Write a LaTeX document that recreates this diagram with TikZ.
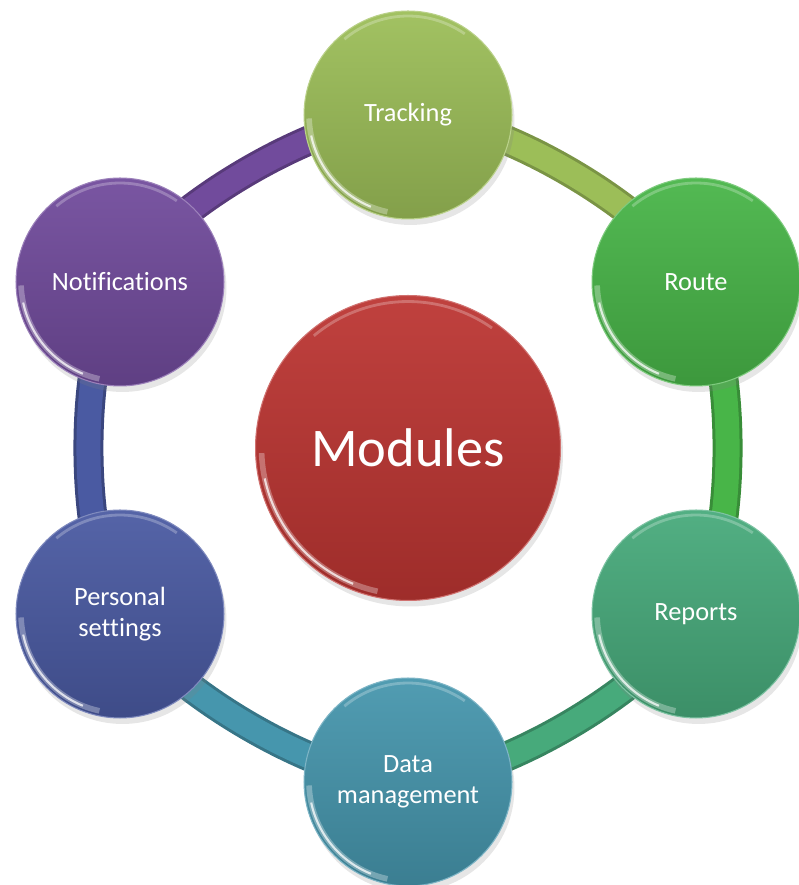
\documentclass[tikz,border=0pt]{standalone}
\usepackage{fontspec}
\setmainfont{Carlito}[Ligatures=NoCommon]
\usetikzlibrary{shadows}
\usetikzlibrary{backgrounds}

\definecolor{trackgreen}{HTML}{9CBE58}
\definecolor{routegreen}{HTML}{48B548}
\definecolor{reportteal}{HTML}{47AA7B}
\definecolor{datablue}{HTML}{4696AD}
\definecolor{personblue}{HTML}{4A5AA2}
\definecolor{notepurple}{HTML}{714B9C}
\definecolor{modred}{HTML}{BC3532}

\tikzset{
	bubble/.style={circle, inner sep=0pt, align=center, text=white,
		top color=#1!94!white, bottom color=#1!84!black, draw=#1!70!white, line width=.6pt,
		drop shadow={shadow xshift=.5mm, shadow yshift=-1.2mm, opacity=.2}},
	glint/.style={path picture={
		\draw[white, opacity=.3, line width=3.2pt] ([shift={(182:#1)}]path picture bounding box.center) arc[start angle=182, end angle=258, radius=#1];
		\draw[white, opacity=.75, line width=1.2pt] ([shift={(192:#1)}]path picture bounding box.center) arc[start angle=192, end angle=248, radius=#1];
		\draw[white, opacity=.25, line width=1.6pt] ([shift={(55:#1)}]path picture bounding box.center) arc[start angle=55, end angle=130, radius=#1];}},
	small/.style={minimum size=4.16cm, font=\fontsize{15}{17.5}\selectfont, glint=1.98cm},
	band/.style={line width=.6cm, #1!78!black},
	bandtop/.style={line width=.48cm, #1},
	ring/.style={bend left=30, looseness=.65},
}

\begin{document}
\begin{tikzpicture}[x=0.02cm, y=0.02cm]
	\useasboundingbox (0,0) rectangle (798,885);
	\node[bubble=trackgreen, small] (trk) at (408,770) {Tracking};
	\node[bubble=routegreen, small] (rte) at (696,603) {Route};
	\node[bubble=reportteal, small] (rep) at (696,271) {Reports};
	\node[bubble=datablue, small] (dat) at (408,103) {Data\\management};
	\node[bubble=personblue, small] (per) at (120,271) {Personal\\settings};
	\node[bubble=notepurple, small] (ntf) at (120,603) {Notifications};
	\node[bubble=modred, minimum size=6.1cm, font=\fontsize{31}{36}\selectfont, glint=2.93cm] (mod) at (408,437) {Modules};

	\begin{scope}[on background layer]
		\draw[band=trackgreen] (trk.center) to[ring] (rte.center);
		\draw[band=routegreen] (rte.center) to[ring] (rep.center);
		\draw[band=reportteal] (rep.center) to[ring] (dat.center);
		\draw[band=datablue] (dat.center) to[ring] (per.center);
		\draw[band=personblue] (per.center) to[ring] (ntf.center);
		\draw[band=notepurple] (ntf.center) to[ring] (trk.center);
		\draw[bandtop=trackgreen] (trk.center) to[ring] (rte.center);
		\draw[bandtop=routegreen] (rte.center) to[ring] (rep.center);
		\draw[bandtop=reportteal] (rep.center) to[ring] (dat.center);
		\draw[bandtop=datablue] (dat.center) to[ring] (per.center);
		\draw[bandtop=personblue] (per.center) to[ring] (ntf.center);
		\draw[bandtop=notepurple] (ntf.center) to[ring] (trk.center);
	\end{scope}
\end{tikzpicture}
\end{document}
